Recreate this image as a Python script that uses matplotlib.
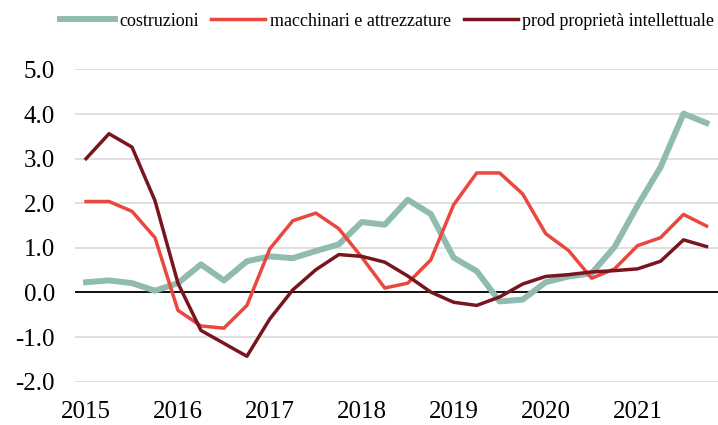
import matplotlib.pyplot as plt

plt.rcParams['font.family'] = ['Liberation Serif', 'DejaVu Serif']

# quarterly data, 2015 Q1 - 2021 Q4
anni = ['2015', '2016', '2017', '2018', '2019', '2020', '2021']
costruzioni = [0.23, 0.27, 0.21, 0.04, 0.21, 0.63, 0.27, 0.70, 0.81, 0.77,
               0.93, 1.08, 1.58, 1.52, 2.08, 1.76, 0.78, 0.48, -0.20, -0.16,
               0.23, 0.36, 0.43, 1.02, 1.95, 2.81, 4.01, 3.80]
macchinari = [2.04, 2.04, 1.82, 1.23, -0.40, -0.75, -0.80, -0.29, 0.98, 1.61,
              1.78, 1.43, 0.79, 0.10, 0.21, 0.73, 1.97, 2.68, 2.68, 2.21,
              1.32, 0.94, 0.32, 0.53, 1.05, 1.23, 1.75, 1.49]
prod_ip = [3.00, 3.56, 3.26, 2.06, 0.21, -0.85, -1.14, -1.43, -0.59, 0.06,
           0.51, 0.85, 0.81, 0.68, 0.37, 0.01, -0.22, -0.29, -0.10, 0.19,
           0.36, 0.40, 0.46, 0.49, 0.53, 0.70, 1.18, 1.03]

x = list(range(len(costruzioni)))

fig = plt.figure(figsize=(7.18, 4.25), dpi=100)
ax = fig.add_axes([0.1038, 0.1019, 0.8962, 0.7346])

ax.plot(x, costruzioni, color='#8fbcae', lw=4.3, label='costruzioni')
ax.plot(x, macchinari, color='#e8483f', lw=2.5, label='macchinari e attrezzature')
ax.plot(x, prod_ip, color='#78151f', lw=2.5, label='prod proprietà intellettuale')

ax.set_xlim(-0.5, len(x) - 0.5)
ax.set_ylim(-2, 5)
ax.set_yticks(range(-2, 6))
ax.set_yticklabels(['%.1f' % v for v in range(-2, 6)])
ax.set_xticks(range(0, len(x), 4))
ax.set_xticklabels(anni)

ax.grid(axis='y', color='#d9d9d9', lw=1.2)
ax.set_axisbelow(True)
ax.axhline(0, color='black', lw=1.3, zorder=1.5)
for s in ax.spines.values():
    s.set_visible(False)
ax.tick_params(length=0, labelsize=18)
ax.tick_params(axis='y', pad=14)
ax.tick_params(axis='x', pad=14)

fig.legend(loc='center right', bbox_to_anchor=(1.0, 0.95), ncol=3, frameon=False,
           fontsize=13, handlelength=3.0, handletextpad=0.25, columnspacing=0.7,
           borderaxespad=0.1, borderpad=0.1)

fig.savefig('out.png', dpi=100)
